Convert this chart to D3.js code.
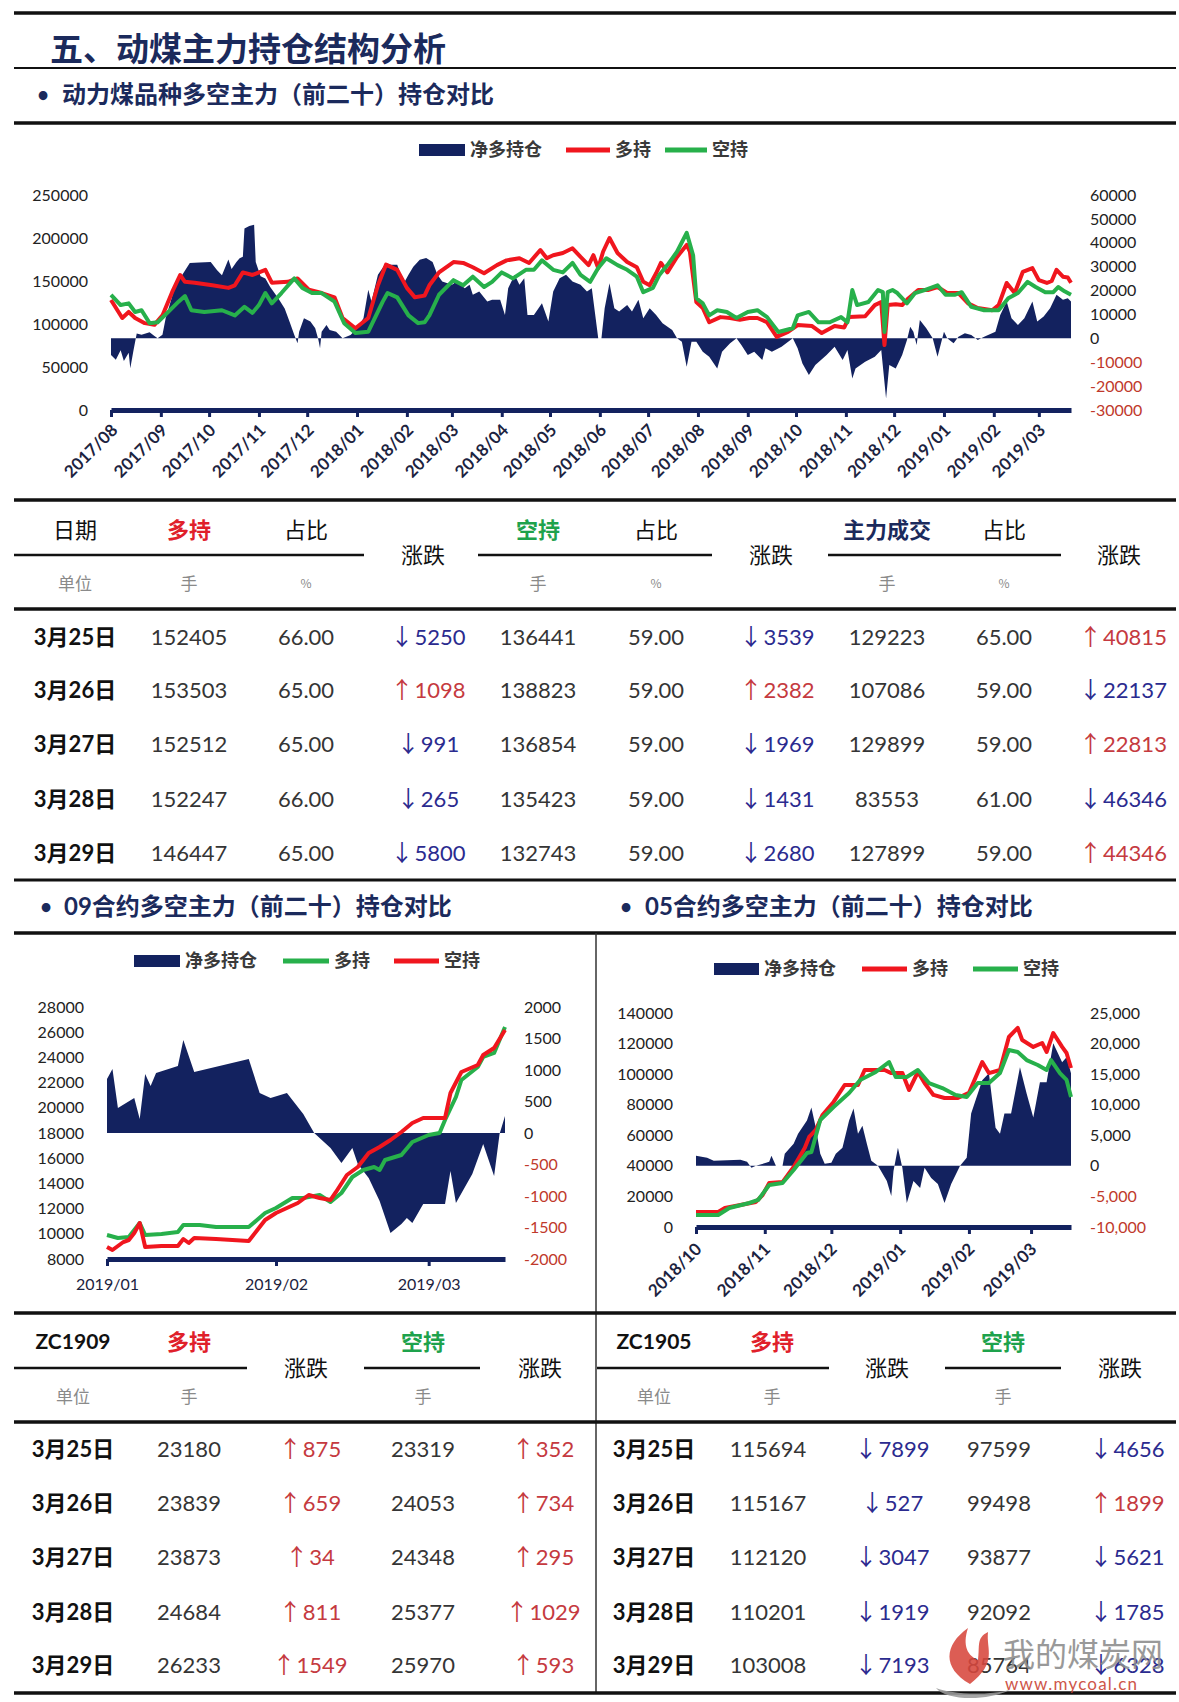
<!DOCTYPE html>
<html><head><meta charset="utf-8">
<script src="https://cdn.jsdelivr.net/npm/d3@7"></script>
<style>
html,body{margin:0;padding:0;background:#fff;}
svg{display:block;}
</style></head><body>
<svg id="c" width="1179" height="1702"></svg>
<script>
// ---------------- DATA ----------------
// Main chart: 动力煤品种多空主力（前二十）持仓对比
const mainNet = [["2017-08-01",-7000],["2017-08-04",-9000],["2017-08-07",-5000],["2017-08-09",-9500],["2017-08-12",-6000],["2017-08-13",-12500],["2017-08-15",-5000],["2017-08-17",2000],["2017-08-20",1500],["2017-08-25",2500],["2017-08-28",1000],["2017-08-30",0],["2017-09-02",1500],["2017-09-04",8400],["2017-09-10",22000],["2017-09-19",31500],["2017-09-25",31700],["2017-10-02",32000],["2017-10-06",28500],["2017-10-09",26400],["2017-10-13",33000],["2017-10-15",29000],["2017-10-18",32000],["2017-10-20",33500],["2017-10-22",34200],["2017-10-23",46000],["2017-10-26",47000],["2017-10-29",47500],["2017-10-30",32000],["2017-11-02",26000],["2017-11-05",25000],["2017-11-08",21500],["2017-11-13",16800],["2017-11-17",12500],["2017-11-20",7000],["2017-11-23",1400],["2017-11-25",-2100],["2017-11-26",2800],["2017-11-29",8400],["2017-12-03",7000],["2017-12-06",4200],["2017-12-08",-700],["2017-12-09",-4200],["2017-12-10",2800],["2017-12-13",5600],["2017-12-15",3500],["2017-12-19",2800],["2017-12-23",0],["2017-12-28",1400],["2018-01-01",4200],["2018-01-05",8400],["2018-01-08",20300],["2018-01-10",15400],["2018-01-14",26600],["2018-01-19",31500],["2018-01-22",30800],["2018-01-26",30800],["2018-01-30",23000],["2018-02-02",26600],["2018-02-05",30000],["2018-02-09",32900],["2018-02-13",33600],["2018-02-17",32000],["2018-02-20",26600],["2018-02-23",23800],["2018-03-01",22400],["2018-03-04",23800],["2018-03-09",21000],["2018-03-12",22400],["2018-03-14",18200],["2018-03-18",19600],["2018-03-23",15400],["2018-03-26",16100],["2018-03-31",16100],["2018-04-03",9800],["2018-04-05",21000],["2018-04-09",26600],["2018-04-12",22400],["2018-04-15",25200],["2018-04-17",9800],["2018-04-21",9800],["2018-04-26",14700],["2018-04-30",7000],["2018-05-03",19600],["2018-05-07",25200],["2018-05-11",26600],["2018-05-15",23800],["2018-05-20",22400],["2018-05-24",19600],["2018-05-27",21000],["2018-05-31",0],["2018-06-02",0],["2018-06-04",12600],["2018-06-07",23100],["2018-06-10",12600],["2018-06-13",11200],["2018-06-18",14000],["2018-06-21",11200],["2018-06-25",16100],["2018-06-28",8400],["2018-07-02",12600],["2018-07-06",9800],["2018-07-10",6300],["2018-07-16",3500],["2018-07-19",0],["2018-07-22",-1400],["2018-07-25",-11900],["2018-07-28",-1400],["2018-07-31",-1400],["2018-08-04",-5600],["2018-08-08",-7700],["2018-08-13",-12600],["2018-08-16",-5600],["2018-08-21",-2100],["2018-08-25",0],["2018-08-28",-2800],["2018-09-01",-7000],["2018-09-05",-5600],["2018-09-10",-9100],["2018-09-12",-4200],["2018-09-16",-5600],["2018-09-22",-3500],["2018-09-29",0],["2018-10-02",-4200],["2018-10-05",-10500],["2018-10-09",-15400],["2018-10-13",-11200],["2018-10-20",-7000],["2018-10-25",-3500],["2018-10-30",-9100],["2018-11-02",-4900],["2018-11-05",-16800],["2018-11-07",-12600],["2018-11-13",-9800],["2018-11-19",-7700],["2018-11-23",-4900],["2018-11-26",-25200],["2018-11-28",-11200],["2018-12-02",-12600],["2018-12-06",-7000],["2018-12-09",-700],["2018-12-11",4900],["2018-12-13",2800],["2018-12-15",-2800],["2018-12-17",7700],["2018-12-21",4200],["2018-12-25",0],["2018-12-28",-7700],["2019-01-01",2800],["2019-01-03",0],["2019-01-07",-2100],["2019-01-10",700],["2019-01-14",2100],["2019-01-18",1400],["2019-01-22",-700],["2019-01-26",700],["2019-02-02",2800],["2019-02-05",9800],["2019-02-09",15400],["2019-02-12",8400],["2019-02-16",5600],["2019-02-20",8400],["2019-02-25",15400],["2019-02-28",7000],["2019-03-04",9100],["2019-03-08",12600],["2019-03-12",18200],["2019-03-16",16100],["2019-03-19",16800],["2019-03-21",15400]];
const mainLong = [["2017-08-01",127900],["2017-08-08",107000],["2017-08-12",114000],["2017-08-16",107000],["2017-08-22",101000],["2017-08-28",99000],["2017-09-02",110000],["2017-09-08",137000],["2017-09-13",157000],["2017-09-16",149000],["2017-09-22",148000],["2017-10-03",145000],["2017-10-13",142000],["2017-10-17",145000],["2017-10-22",160000],["2017-10-28",157000],["2017-11-05",163000],["2017-11-09",148000],["2017-11-19",149000],["2017-11-25",153000],["2017-12-02",140000],["2017-12-10",136000],["2017-12-18",131000],["2017-12-23",107000],["2017-12-31",95000],["2018-01-08",107000],["2018-01-14",145000],["2018-01-19",169000],["2018-01-26",163000],["2018-02-01",142000],["2018-02-06",131000],["2018-02-12",133000],["2018-02-15",145000],["2018-02-21",160000],["2018-03-02",172000],["2018-03-08",171000],["2018-03-14",166000],["2018-03-21",159000],["2018-03-29",168500],["2018-04-04",174000],["2018-04-12",176500],["2018-04-18",171000],["2018-04-25",186000],["2018-04-29",176500],["2018-05-03",180000],["2018-05-09",182500],["2018-05-15",188000],["2018-05-20",178000],["2018-05-25",168500],["2018-05-28",180000],["2018-05-31",165000],["2018-06-03",184000],["2018-06-07",200000],["2018-06-12",182500],["2018-06-18",172000],["2018-06-24",166000],["2018-06-28",149000],["2018-07-02",145000],["2018-07-06",159000],["2018-07-09",171000],["2018-07-13",160000],["2018-07-19",178000],["2018-07-25",192000],["2018-07-27",184000],["2018-07-31",125600],["2018-08-04",118600],["2018-08-08",102000],["2018-08-15",108000],["2018-08-21",107000],["2018-08-27",105000],["2018-09-02",107000],["2018-09-07",107000],["2018-09-13",102000],["2018-09-19",85000],["2018-09-26",90700],["2018-10-02",98800],["2018-10-11",97600],["2018-10-17",89500],["2018-10-25",97600],["2018-10-31",96000],["2018-11-03",108000],["2018-11-13",109000],["2018-11-19",122000],["2018-11-23",125600],["2018-11-25",75600],["2018-11-27",122000],["2018-12-02",123000],["2018-12-06",122000],["2018-12-10",130000],["2018-12-16",139500],["2018-12-22",139500],["2018-12-28",143000],["2019-01-03",136000],["2019-01-10",136000],["2019-01-16",124000],["2019-01-22",118600],["2019-01-31",116000],["2019-02-04",122000],["2019-02-09",147700],["2019-02-14",136000],["2019-02-19",160500],["2019-02-25",165000],["2019-03-01",151000],["2019-03-06",147700],["2019-03-09",150000],["2019-03-12",163000],["2019-03-16",155000],["2019-03-19",154000],["2019-03-21",148000]];
const mainShort = [["2017-08-01",134000],["2017-08-07",122000],["2017-08-12",124000],["2017-08-16",114000],["2017-08-20",116000],["2017-08-25",101000],["2017-08-30",102000],["2017-09-05",113000],["2017-09-12",126000],["2017-09-16",132500],["2017-09-20",116000],["2017-09-28",114000],["2017-10-09",116000],["2017-10-17",110000],["2017-10-23",120000],["2017-10-28",113000],["2017-11-01",122000],["2017-11-05",136000],["2017-11-09",124000],["2017-11-15",136000],["2017-11-23",153000],["2017-11-28",142000],["2017-12-04",136000],["2017-12-10",136000],["2017-12-18",126000],["2017-12-24",101000],["2017-12-31",89500],["2018-01-08",91000],["2018-01-17",126000],["2018-01-20",136000],["2018-01-26",131000],["2018-02-02",110000],["2018-02-08",101000],["2018-02-12",102000],["2018-02-15",110000],["2018-02-21",134000],["2018-03-02",151000],["2018-03-08",145000],["2018-03-14",155000],["2018-03-21",143000],["2018-03-26",149000],["2018-04-01",160000],["2018-04-08",153000],["2018-04-16",163000],["2018-04-21",163000],["2018-04-26",174000],["2018-05-03",163000],["2018-05-09",160000],["2018-05-15",171000],["2018-05-20",157000],["2018-05-26",149000],["2018-05-31",165000],["2018-06-05",176500],["2018-06-12",168500],["2018-06-18",163000],["2018-06-24",155000],["2018-06-28",137000],["2018-07-04",142000],["2018-07-08",157000],["2018-07-13",168500],["2018-07-19",184000],["2018-07-25",206000],["2018-07-29",180000],["2018-07-31",130000],["2018-08-04",124000],["2018-08-08",110000],["2018-08-13",116000],["2018-08-19",114000],["2018-08-25",107000],["2018-09-01",114000],["2018-09-07",116000],["2018-09-13",108000],["2018-09-20",90700],["2018-09-29",95000],["2018-10-02",110000],["2018-10-09",114000],["2018-10-15",102000],["2018-10-22",102000],["2018-10-29",108000],["2018-11-02",102000],["2018-11-05",139500],["2018-11-08",122000],["2018-11-15",125600],["2018-11-21",139500],["2018-11-24",137000],["2018-11-25",90700],["2018-11-27",137000],["2018-11-30",139500],["2018-12-03",136000],["2018-12-09",124000],["2018-12-14",136000],["2018-12-20",139500],["2018-12-28",145000],["2019-01-02",134000],["2019-01-08",134000],["2019-01-12",137000],["2019-01-18",120000],["2019-01-26",116000],["2019-02-04",116000],["2019-02-10",130000],["2019-02-16",136000],["2019-02-22",149000],["2019-02-27",143000],["2019-03-05",137000],["2019-03-10",137000],["2019-03-13",143000],["2019-03-17",138000],["2019-03-21",134000]];

// 09 contract chart
const c09Net = [["2019-01-01",857],["2019-01-02",1016],["2019-01-03",397],["2019-01-06",555],["2019-01-07",222],["2019-01-08",936],["2019-01-09",746],["2019-01-10",952],["2019-01-14",1063],["2019-01-15",1476],["2019-01-17",968],["2019-01-27",1174],["2019-01-29",635],["2019-01-31",555],["2019-02-03",635],["2019-02-06",301],["2019-02-08",0],["2019-02-11",-238],["2019-02-13",-476],["2019-02-15",-238],["2019-02-16",-492],["2019-02-18",-714],["2019-02-20",-1079],["2019-02-22",-1587],["2019-02-24",-1444],["2019-02-25",-1349],["2019-02-26",-1428],["2019-02-28",-1127],["2019-03-01",-1127],["2019-03-04",-1127],["2019-03-05",-603],["2019-03-06",-1111],["2019-03-09",-651],["2019-03-11",-175],["2019-03-13",-682],["2019-03-14",-16],["2019-03-15",270]];
const c09Long = [["2019-01-01",9905],["2019-01-03",9667],["2019-01-05",9746],["2019-01-06",10300],["2019-01-07",10857],["2019-01-08",9905],["2019-01-11",9984],["2019-01-14",10143],["2019-01-15",10700],["2019-01-18",10700],["2019-01-21",10540],["2019-01-27",10540],["2019-01-30",11650],["2019-02-01",12048],["2019-02-04",12840],["2019-02-06",12840],["2019-02-09",13080],["2019-02-11",12524],["2019-02-13",13238],["2019-02-15",14508],["2019-02-17",15064],["2019-02-19",15302],["2019-02-20",15064],["2019-02-21",15858],["2019-02-24",16254],["2019-02-26",17286],["2019-03-01",17842],["2019-03-03",18000],["2019-03-04",19032],["2019-03-06",20857],["2019-03-07",22207],["2019-03-10",23238],["2019-03-11",24032],["2019-03-13",24350],["2019-03-14",25380],["2019-03-15",26413]];
const c09Short = [["2019-01-01",8952],["2019-01-02",8714],["2019-01-04",9349],["2019-01-05",9508],["2019-01-06",10064],["2019-01-07",10857],["2019-01-08",8952],["2019-01-11",9032],["2019-01-14",9032],["2019-01-15",9587],["2019-01-16",9270],["2019-01-17",9667],["2019-01-21",9587],["2019-01-27",9429],["2019-01-30",11095],["2019-02-01",11651],["2019-02-05",12445],["2019-02-07",13080],["2019-02-09",12842],["2019-02-11",12683],["2019-02-12",13318],["2019-02-14",14667],["2019-02-16",15302],["2019-02-18",16413],["2019-02-20",16889],["2019-02-22",17445],["2019-02-24",18080],["2019-02-26",18794],["2019-02-28",19190],["2019-03-04",19190],["2019-03-05",21175],["2019-03-07",22842],["2019-03-10",23397],["2019-03-11",24190],["2019-03-13",24746],["2019-03-15",26175]];

// 05 contract chart
const c05Net = [["2018-10-01",1645],["2018-10-06",1316],["2018-10-09",822],["2018-10-21",987],["2018-10-24",658],["2018-10-26",-329],["2018-10-28",0],["2018-11-03",658],["2018-11-04",1645],["2018-11-06",0],["2018-11-09",0],["2018-11-10",1974],["2018-11-14",3619],["2018-11-16",5264],["2018-11-20",7403],["2018-11-22",9541],["2018-11-24",6251],["2018-11-26",1974],["2018-11-28",329],["2018-12-01",493],["2018-12-03",1974],["2018-12-06",2961],["2018-12-09",7403],["2018-12-11",9376],["2018-12-13",5264],["2018-12-15",6580],["2018-12-17",3619],["2018-12-19",822],["2018-12-22",0],["2018-12-26",-2468],["2018-12-28",-4935],["2018-12-29",-822],["2018-12-31",2961],["2019-01-02",-329],["2019-01-04",-6087],["2019-01-07",-2468],["2019-01-10",-3619],["2019-01-12",-329],["2019-01-15",-1974],["2019-01-18",-2961],["2019-01-21",-6087],["2019-01-24",-2961],["2019-01-28",0],["2019-01-31",1316],["2019-02-02",8554],["2019-02-07",13983],["2019-02-10",15134],["2019-02-13",6251],["2019-02-15",5264],["2019-02-17",8554],["2019-02-20",8554],["2019-02-24",16121],["2019-02-27",11844],["2019-03-02",7896],["2019-03-05",13654],["2019-03-08",13654],["2019-03-11",20069],["2019-03-15",16943],["2019-03-17",17766],["2019-03-19",15134]];
const c05Long = [["2018-10-01",9800],["2018-10-11",9800],["2018-10-14",12400],["2018-10-21",14400],["2018-10-28",16400],["2018-10-31",20900],["2018-11-03",28800],["2018-11-09",29400],["2018-11-14",39300],["2018-11-19",51700],["2018-11-21",58900],["2018-11-24",63500],["2018-11-27",73300],["2018-12-02",81800],["2018-12-07",92900],["2018-12-13",92900],["2018-12-16",102700],["2018-12-25",102700],["2018-12-28",100700],["2019-01-02",100700],["2019-01-05",89600],["2019-01-09",101400],["2019-01-12",94200],["2019-01-16",86400],["2019-01-21",84400],["2019-01-27",84400],["2019-02-01",87700],["2019-02-07",107900],["2019-02-10",100700],["2019-02-15",102700],["2019-02-19",124300],["2019-02-23",130200],["2019-02-25",122300],["2019-03-02",117800],["2019-03-06",120400],["2019-03-08",114500],["2019-03-11",126900],["2019-03-15",117800],["2019-03-17",113800],["2019-03-19",104000]];
const c05Short = [["2018-10-01",7850],["2018-10-11",7850],["2018-10-16",12400],["2018-10-25",15700],["2018-10-29",17700],["2018-11-03",27500],["2018-11-09",28800],["2018-11-14",37300],["2018-11-20",48400],["2018-11-22",49100],["2018-11-26",70000],["2018-12-02",78500],["2018-12-09",87700],["2018-12-14",96200],["2018-12-21",101400],["2018-12-27",107900],["2018-12-30",98100],["2019-01-04",98100],["2019-01-09",102700],["2019-01-14",94200],["2019-01-20",90900],["2019-01-26",86400],["2019-01-31",85100],["2019-02-05",94200],["2019-02-10",94200],["2019-02-15",100700],["2019-02-19",115800],["2019-02-23",114500],["2019-02-27",109200],["2019-03-04",106000],["2019-03-08",102700],["2019-03-10",109200],["2019-03-14",100700],["2019-03-17",96200],["2019-03-19",85100]];

// Tables
const rowDates = ["3月25日","3月26日","3月27日","3月28日","3月29日"];
const t1Long = [152405,153503,152512,152247,146447];
const t1LongPct = ["66.00","65.00","65.00","66.00","65.00"];
const t1LongChg = [-5250,1098,-991,-265,-5800];
const t1Short = [136441,138823,136854,135423,132743];
const t1ShortPct = ["59.00","59.00","59.00","59.00","59.00"];
const t1ShortChg = [-3539,2382,-1969,-1431,-2680];
const t1Vol = [129223,107086,129899,83553,127899];
const t1VolPct = ["65.00","59.00","59.00","61.00","59.00"];
const t1VolChg = [40815,-22137,22813,-46346,44346];
const zc09Long = [23180,23839,23873,24684,26233];
const zc09LongChg = [875,659,34,811,1549];
const zc09Short = [23319,24053,24348,25377,25970];
const zc09ShortChg = [352,734,295,1029,593];
const zc05Long = [115694,115167,112120,110201,103008];
const zc05LongChg = [-7899,-527,-3047,-1919,-7193];
const zc05Short = [97599,99498,93877,92092,85764];
const zc05ShortChg = [-4656,1899,-5621,-1785,-6328];

// ---------------- DRAW ----------------
const svg = d3.select("#c");
const NAVY = "#13225f", RED = "#f0161e", GREEN = "#27b04b", TITLE = "#1b2a5c";
const NEG = "#c0392b", DN = "#2b2b8f", UP = "#c53a40";
const LAT = "Lato,'Noto Sans CJK SC',sans-serif";
const CJK = "'Noto Sans CJK SC',sans-serif";
const parse = d3.timeParse("%Y-%m-%d");
const toPts = arr => arr.map(([d, v]) => ({date: parse(d), v}));

function hline(x1, x2, y, w) {
  svg.append("line").attr("x1", x1).attr("x2", x2).attr("y1", y).attr("y2", y)
    .attr("stroke", "#111").attr("stroke-width", w);
}
function txt(x, y, s, o = {}) {
  return svg.append("text").attr("x", x).attr("y", y).attr("dy", "0.35em")
    .attr("text-anchor", o.anchor || "middle").attr("font-size", o.size || 22)
    .attr("font-weight", o.weight || 400).attr("fill", o.fill || "#222")
    .attr("font-family", o.family || LAT).text(s);
}

// Headings & separators
hline(14, 1176, 13, 3.5);
txt(50, 49, "五、动煤主力持仓结构分析", {anchor: "start", size: 33, weight: 700, fill: TITLE, family: CJK});
hline(14, 1176, 68, 2);
txt(43, 95, "•", {size: 20, weight: 700, fill: TITLE});
txt(62, 95, "动力煤品种多空主力（前二十）持仓对比", {anchor: "start", size: 24, weight: 700, fill: TITLE, family: CJK});
hline(14, 1176, 123, 3.5);

// Generic dual-axis chart
function chart(cfg) {
  const x = d3.scaleTime().domain(cfg.xDomain.map(parse)).range(cfg.xRange);
  const yL = d3.scaleLinear().domain(cfg.yL).range(cfg.yRange);
  const yR = d3.scaleLinear().domain(cfg.yR).range(cfg.yRange);
  const g = svg.append("g");
  const area = d3.area().x(d => x(d.date)).y0(yR(0)).y1(d => yR(d.v));
  g.append("path").datum(toPts(cfg.net)).attr("d", area).attr("fill", NAVY);

  // x axis
  const ticks = d3.timeMonth.range(parse(cfg.xDomain[0]), d3.timeDay.offset(parse(cfg.xDomain[1]), 1));
  const xa = g.append("g").attr("transform", `translate(0,${cfg.yRange[0]})`)
    .call(d3.axisBottom(x).tickValues(ticks).tickSize(7).tickSizeOuter(0).tickFormat(d3.timeFormat("%Y/%m")));
  xa.select(".domain").attr("stroke", NAVY).attr("stroke-width", 5);
  xa.selectAll(".tick line").attr("stroke", NAVY).attr("stroke-width", 3);
  const xt = xa.selectAll(".tick text").attr("font-family", LAT)
    .attr("font-size", cfg.rotate ? 17 : 16)
    .attr("fill", "#1c2340").attr("font-weight", cfg.rotate ? 700 : 400);
  if (cfg.rotate) {
    xt.attr("x", 0).attr("y", 0).attr("dy", "0.35em").attr("text-anchor", "end")
      .attr("transform", `translate(${cfg.lblOff[0]},${cfg.lblOff[1]}) rotate(-45)`);
  } else {
    xt.attr("y", 25).attr("dy", "0.35em");
  }

  // lines
  const line = d3.line().x(d => x(d.date)).y(d => yL(d.v));
  cfg.lines.forEach(l => {
    g.append("path").datum(toPts(l.data)).attr("d", line).attr("fill", "none")
      .attr("stroke", l.color).attr("stroke-width", 4).attr("stroke-linejoin", "round");
  });

  // y axes
  const la = g.append("g").attr("transform", `translate(${cfg.xRange[0]},0)`)
    .call(d3.axisLeft(yL).tickValues(d3.range(cfg.yL[0], cfg.yL[1] + 1, cfg.yLStep))
      .tickSize(0).tickPadding(23).tickFormat(d => String(d)));
  la.select(".domain").remove();
  la.selectAll("text").attr("font-family", LAT).attr("font-size", 16).attr("fill", "#222");
  const fmtR = cfg.comma ? d => (d < 0 ? "-" : "") + d3.format(",")(Math.abs(d)) : d => (d < 0 ? "-" : "") + Math.abs(d);
  const ra = g.append("g").attr("transform", `translate(${cfg.xRange[1]},0)`)
    .call(d3.axisRight(yR).tickValues(d3.range(cfg.yR[0], cfg.yR[1] + 1, cfg.yRStep))
      .tickSize(0).tickPadding(19).tickFormat(fmtR));
  ra.select(".domain").remove();
  ra.selectAll("text").attr("font-family", LAT).attr("font-size", 16).attr("fill", d => d < 0 ? NEG : "#222");

  // legend
  const ly = cfg.legendY;
  cfg.legend.forEach(it => {
    if (it.kind === "area") {
      svg.append("rect").attr("x", it.x0).attr("y", ly - 6).attr("width", it.x1 - it.x0).attr("height", 12).attr("fill", NAVY);
    } else {
      svg.append("line").attr("x1", it.x0).attr("x2", it.x1).attr("y1", ly).attr("y2", ly)
        .attr("stroke", it.color).attr("stroke-width", 5);
    }
    txt(it.x1 + 5, ly, it.label, {anchor: "start", size: 18, weight: 700, fill: "#3a3a3a", family: CJK});
  });
}

chart({
  net: mainNet, xDomain: ["2017-08-01", "2019-03-21"], xRange: [111, 1071],
  yL: [0, 250000], yLStep: 50000, yR: [-30000, 60000], yRStep: 10000, yRange: [410, 195],
  rotate: true, lblOff: [3, 17],
  lines: [{data: mainLong, color: RED}, {data: mainShort, color: GREEN}],
  legendY: 150,
  legend: [{kind: "area", x0: 419, x1: 465, label: "净多持仓"},
           {kind: "line", x0: 566, x1: 610, color: RED, label: "多持"},
           {kind: "line", x0: 665, x1: 707, color: GREEN, label: "空持"}]
});

// ---------------- TABLE 1 ----------------
hline(14, 1176, 500, 3.5);
const hdr = (x, y, s, fill, w) => txt(x, y, s, {size: 22, weight: w || 400, fill: fill || "#111", family: CJK});
const unit = (x, y, s, sz) => txt(x, y, s, {size: sz || 17, fill: "#8a8a8a", family: CJK});
hdr(75, 530, "日期"); hdr(189, 530, "多持", "#e0202a", 700); hdr(306, 530, "占比");
hdr(538, 530, "空持", "#1ea24c", 700); hdr(656, 530, "占比");
hdr(887, 530, "主力成交", TITLE, 700); hdr(1004, 530, "占比");
hdr(423, 555, "涨跌"); hdr(771, 555, "涨跌"); hdr(1119, 555, "涨跌");
hline(14, 364, 555, 2.5); hline(478, 712, 555, 2.5); hline(828, 1061, 555, 2.5);
unit(75, 584, "单位"); unit(189, 584, "手"); unit(306, 584, "%", 12);
unit(538, 584, "手"); unit(656, 584, "%", 12); unit(887, 584, "手"); unit(1004, 584, "%", 12);
hline(14, 1176, 609, 3.5);

const rows1 = [637, 690, 744, 799, 853];
const rows2 = [1449, 1503, 1557, 1612, 1665];

function col(values, x, ys, o = {}) {
  svg.append("g").selectAll("text").data(values).join("text")
    .attr("x", x).attr("y", (d, i) => ys[i]).attr("dy", "0.35em").attr("text-anchor", "middle")
    .attr("font-family", o.family || LAT).attr("font-size", 22).attr("font-weight", o.weight || 400)
    .attr("fill", o.fill || "#353535").text(d => d);
}
function chgCol(values, x, ys) {
  const t = svg.append("g").selectAll("text").data(values).join("text")
    .attr("x", x).attr("y", (d, i) => ys[i]).attr("dy", "0.35em").attr("text-anchor", "middle")
    .attr("font-family", LAT).attr("font-size", 22).attr("fill", d => d < 0 ? DN : UP);
  t.append("tspan").attr("font-family", CJK).attr("font-size", 23).text(d => d < 0 ? "↓" : "↑");
  t.append("tspan").attr("dx", 1).text(d => Math.abs(d));
}

col(rowDates, 75, rows1, {weight: 700, fill: "#111"});
col(t1Long, 189, rows1); col(t1LongPct, 306, rows1); chgCol(t1LongChg, 428, rows1);
col(t1Short, 538, rows1); col(t1ShortPct, 656, rows1); chgCol(t1ShortChg, 777, rows1);
col(t1Vol, 887, rows1); col(t1VolPct, 1004, rows1); chgCol(t1VolChg, 1123, rows1);
hline(14, 1176, 880, 3);

// ---------------- SECTION 2 ----------------
txt(46, 907, "•", {size: 20, weight: 700, fill: TITLE});
txt(64, 907, "09合约多空主力（前二十）持仓对比", {anchor: "start", size: 24, weight: 700, fill: TITLE});
txt(626, 907, "•", {size: 20, weight: 700, fill: TITLE});
txt(645, 907, "05合约多空主力（前二十）持仓对比", {anchor: "start", size: 24, weight: 700, fill: TITLE});
hline(14, 1176, 933, 3.5);
svg.append("line").attr("x1", 596).attr("x2", 596).attr("y1", 933).attr("y2", 1693).attr("stroke", "#333").attr("stroke-width", 1.5);

chart({
  net: c09Net, xDomain: ["2019-01-01", "2019-03-15"], xRange: [107, 505],
  yL: [8000, 28000], yLStep: 2000, yR: [-2000, 2000], yRStep: 500, yRange: [1259, 1007],
  rotate: false,
  lines: [{data: c09Long, color: GREEN}, {data: c09Short, color: RED}],
  legendY: 961,
  legend: [{kind: "area", x0: 134, x1: 180, label: "净多持仓"},
           {kind: "line", x0: 283, x1: 329, color: GREEN, label: "多持"},
           {kind: "line", x0: 394, x1: 439, color: RED, label: "空持"}]
});
chart({
  net: c05Net, xDomain: ["2018-10-01", "2019-03-19"], xRange: [696, 1071],
  yL: [0, 140000], yLStep: 20000, yR: [-10000, 25000], yRStep: 5000, yRange: [1227, 1013],
  rotate: true, lblOff: [2, 19], comma: true,
  lines: [{data: c05Long, color: RED}, {data: c05Short, color: GREEN}],
  legendY: 969,
  legend: [{kind: "area", x0: 714, x1: 759, label: "净多持仓"},
           {kind: "line", x0: 862, x1: 907, color: RED, label: "多持"},
           {kind: "line", x0: 973, x1: 1018, color: GREEN, label: "空持"}]
});

// ---------------- TABLES 2 ----------------
hline(14, 1176, 1313, 3.5);
// left header
txt(73, 1342, "ZC1909", {size: 21, weight: 700, fill: "#111"});
hdr(189, 1342, "多持", "#e0202a", 700); hdr(306, 1368, "涨跌");
hdr(423, 1342, "空持", "#1ea24c", 700); hdr(540, 1368, "涨跌");
hline(14, 247, 1368, 2.5); hline(364, 480, 1368, 2.5);
unit(73, 1397, "单位"); unit(189, 1397, "手"); unit(423, 1397, "手");
// right header
txt(654, 1342, "ZC1905", {size: 21, weight: 700, fill: "#111"});
hdr(772, 1342, "多持", "#e0202a", 700); hdr(887, 1368, "涨跌");
hdr(1003, 1342, "空持", "#1ea24c", 700); hdr(1120, 1368, "涨跌");
hline(597, 829, 1368, 2.5); hline(945, 1061, 1368, 2.5);
unit(654, 1397, "单位"); unit(772, 1397, "手"); unit(1003, 1397, "手");
hline(14, 1176, 1422, 3.5);

col(rowDates, 73, rows2, {weight: 700, fill: "#111"});
col(zc09Long, 189, rows2); chgCol(zc09LongChg, 310, rows2);
col(zc09Short, 423, rows2); chgCol(zc09ShortChg, 543, rows2);
col(rowDates, 654, rows2, {weight: 700, fill: "#111"});
col(zc05Long, 768, rows2); chgCol(zc05LongChg, 892, rows2);
col(zc05Short, 999, rows2); chgCol(zc05ShortChg, 1127, rows2);
hline(14, 1176, 1693, 3.5);

// watermark
const wm = svg.append("g").attr("opacity", 0.88);
wm.append("path").attr("d", "M936,1688 C 945,1700 985,1702 1010,1690 C 985,1696 950,1694 936,1688 Z").attr("fill", "#9a9a9a");
wm.append("path").attr("d", "M970,1684 C 942,1668 944,1645 968,1628 C 962,1646 968,1656 978,1660 C 980,1646 976,1638 988,1632 C 986,1650 998,1662 970,1684 Z").attr("fill", "#d8473d");
wm.append("text").attr("x", 1003).attr("y", 1655).attr("dy", "0.35em").attr("font-family", CJK)
  .attr("font-size", 32).attr("fill", "#8c8c8c").text("我的煤炭网");
wm.append("text").attr("x", 1005).attr("y", 1684).attr("dy", "0.35em").attr("font-family", LAT)
  .attr("font-size", 17).attr("letter-spacing", 1.2).attr("fill", "#c8402f").text("www.mycoal.cn");
</script>
</body></html>
